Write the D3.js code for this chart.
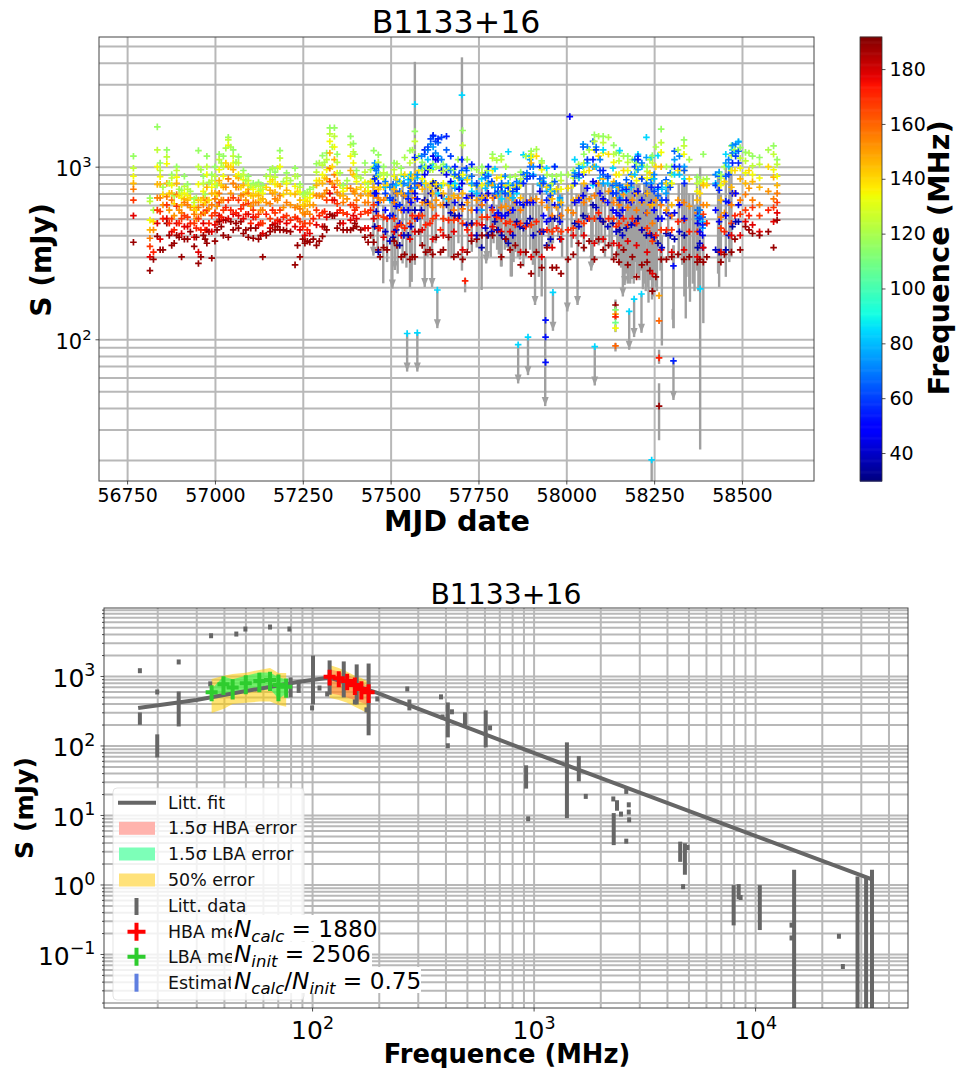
<!DOCTYPE html>
<html><head><meta charset="utf-8">
<script src="https://cdn.jsdelivr.net/npm/d3@7"></script>
<style>html,body{margin:0;background:#fff}svg{display:block;font-family:"DejaVu Sans",sans-serif}</style>
</head><body><svg id="c" width="957" height="1068"></svg>
<script>
// ---------- top panel data: HBA sub-bands, one value per epoch (mJy)
const hbaFreqs=[116,124,134,146,156,168,178,188];
const hbaEpochs=[56768,56815,56836,56844,56863,56877,56891,56905,56913,56922,56941,56953,56967,56977,56991,57000,57012,57024,57038,57052,57067,57081,57095,57109,57124,57136,57157,57171,57185,57204,57228,57242,57256,57270,57289,57306,57318,57327,57340,57348,57365,57386,57394,57403,57427,57436,57452,57465,
57480,57510,57530,57555,57569,57590,57620,57650,57680,57705,57730,57760,57790,57815,57840,57870,57900,57930,57960,57985,58020,58050,58080,58105,58135,58150,58175,58200,58230,58245,58270,58300,58335,58373,58390,58440,58470,58495,58510,58530,58550,58590,58600];
const hbaRows=[
[1150,980,880,800,740,640,520,365],[658,630,490,430,385,345,300,250],[1700,1250,1000,790,660,560,470,395],[1050,950,875,790,660,550,380,330],[1250,1140,1040,800,670,600,500,470],[900,860,780,700,640,500,420,350],[1000,950,870,800,690,590,470,400],[730,700,660,600,540,500,410,300],[880,770,700,650,620,520,450,380],[790,740,680,640,600,510,450,380],[650,620,590,560,530,470,390,345],[1240,1000,790,640,580,500,320,275],[880,800,720,660,600,540,470,400],[1150,1000,900,760,640,560,430,360],[900,830,760,700,600,520,420,295],[1000,880,790,700,650,540,460,370],[1180,1100,960,830,700,620,520,480],[1150,1000,880,760,640,560,490,400],[1480,1430,1330,1000,850,640,500,390],[1250,1150,1050,960,800,660,530,430],[1140,1050,900,860,760,640,520,440],[950,900,840,780,690,600,500,410],[880,830,780,740,700,610,530,390],[800,760,740,680,620,560,510,385],[810,770,720,680,620,530,460,380],[780,740,700,650,560,470,410,300],[960,880,820,730,610,500,440,420],[930,870,790,710,650,540,470,430],[1240,1120,1000,770,680,560,480,430],[920,860,800,730,620,520,470,425],[980,880,770,690,580,510,450,270],[790,760,710,640,570,480,430,300],[700,670,640,590,530,470,400,360],[740,700,660,600,530,470,410,365],[1040,930,830,780,680,560,460,350],[1160,1020,900,800,670,540,450,395],[1200,1100,960,850,730,640,510,430],[1680,1550,1400,1200,980,820,700,530],[1680,1500,1300,1100,900,760,640,520],[1180,1060,920,830,710,610,540,440],[780,750,720,680,620,540,470,430],[1500,1340,1150,950,750,600,490,430],[1360,1220,1050,900,720,600,520,440],[950,880,820,740,640,580,500,450],[1050,930,810,720,620,550,440,390],[800,760,720,680,620,540,440,365],[1240,1000,840,760,680,600,500,365],[1170,1060,880,740,660,520,440,330],
[1000,920,850,760,640,510,390,340],[1050,960,880,740,620,500,420,370],[980,900,800,700,560,460,400,300],[1240,1050,900,760,620,470,380,290],[1600,1400,1100,900,660,500,420,300],[1060,950,850,740,620,520,430,350],[1040,960,820,700,580,500,380,310],[1030,940,800,700,600,500,400,330],[960,880,780,680,560,490,420,300],[1620,1330,900,700,570,470,330,290],[980,880,780,670,560,460,400,370],[1000,920,780,660,600,510,460,400],[1180,1120,950,780,660,560,450,400],[1150,1100,870,720,580,500,420,300],[870,780,720,660,560,480,420,330],[930,850,780,660,560,470,320,270],[1230,1180,1130,1050,640,460,300,240],[1080,1050,960,800,620,420,300,260],[880,800,720,650,520,420,340,260],[900,830,740,620,520,420,380,240],[950,860,780,640,540,440,400,310],[1180,1050,930,800,620,470,400,340],[1530,1400,1250,1000,680,500,360,290],[1500,1380,1200,850,640,480,380,330],[1330,1180,1060,820,620,500,360,290],[1200,1080,900,760,600,470,350,280],[1150,1060,950,780,580,460,370,270],[1050,960,830,700,560,470,350,230],[1000,940,860,700,540,440,320,280],[1160,1050,860,600,470,370,240,190],[1650,1380,1210,1000,600,430,330,290],[1000,900,800,600,520,430,320,300],[1430,1320,1180,950,620,490,330,290],[870,800,720,640,540,420,300,280],[1180,840,800,780,600,530,340,280],[900,860,780,640,510,440,320,280],[1320,1160,950,760,600,470,400,320],[1290,1120,980,850,640,530,400,330],[1210,1080,920,800,690,560,480,450],[1150,1010,900,820,640,580,460,410],[1130,1030,860,760,600,520,420,400],[1320,1180,960,870,650,580,480,340],[1100,1030,880,780,700,620,540,490]];
// further HBA epochs read with fewer sub-bands
const hba2Freqs=[120,140,152,172,188];
const hba2Epochs=[56825,56852,56870,56884,56898,56930,56947,56960,56972,56983,57006,57018,57031,57045,57060,57074,57088,57102,57116,57130,57146,57164,57178,57195,57215,57235,57250,57263,57280,57297,57312,57334,57356,57376,57398,57415,57443,
57470,57490,57518,57540,57562,57580,57600,57612,57630,57642,57665,57692,57718,57745,57775,57802,57828,57855,57885,57915,57945,57972,58005,58035,58065,58092,58120,58142,58163,58188,58215,58238,58255,58285,58318,58350,58380,58400,58450,58480,58520,58575];
const hba2Rows=[
[560,480,430,320,290],[760,690,600,500,330],[800,700,560,470,400],[680,610,520,430,360],[740,680,560,470,390],[720,660,580,470,420],[660,560,500,440,390],[960,640,530,430,300],[690,620,540,430,380],[810,640,570,470,420],[780,690,590,480,430],[1050,780,640,510,450],[1280,1050,760,580,490],[1300,1000,700,560,480],[1060,880,760,540,470],[880,760,680,570,480],[830,710,640,530,430],[760,680,590,470,440],[780,690,620,510,440],[730,640,560,470,400],[880,760,620,530,400],[980,840,700,560,460],[980,790,640,490,450],[820,690,580,510,430],[830,700,600,490,420],[880,720,590,500,350],[690,600,540,450,380],[710,630,550,430,370],[760,690,600,500,380],[1050,830,680,520,370],[1060,860,700,550,450],[1300,1000,800,640,520],[920,780,680,560,470],[830,750,650,530,430],[1180,880,700,560,470],[860,760,680,530,430],[960,820,700,560,400],
[900,760,640,440,300],[900,780,660,500,330],[1040,840,700,450,350],[1130,900,680,440,310],[1250,860,720,520,300],[1150,950,780,520,420],[1000,800,620,460,320],[960,760,610,470,330],[1000,790,640,520,390],[980,750,600,430,320],[960,780,650,490,390],[1100,860,660,500,310],[1100,840,620,430,320],[960,770,640,470,380],[950,800,680,510,400],[1090,860,680,510,430],[1000,780,590,470,380],[880,760,620,460,350],[1150,880,620,450,320],[1260,1150,650,480,320],[900,760,580,430,340],[880,740,580,440,260],[900,750,560,430,290],[1030,860,660,480,360],[1250,950,650,500,370],[1500,1150,800,540,380],[1480,1180,720,500,350],[1200,900,660,450,310],[1150,950,690,500,330],[1100,880,640,500,300],[1020,860,620,430,270],[1100,920,600,410,250],[1300,1000,640,400,230],[1000,800,560,430,290],[1250,950,640,480,310],[1100,850,590,420,300],[820,700,560,420,290],[850,780,600,470,300],[1000,820,540,420,310],[1250,950,700,520,380],[1200,950,750,520,430],[1250,1000,720,560,420]];
// LBA sub-bands
const lbaFreqs=[84,75,65,55,45,36];
const lbaEpochs=[57455,57465,57507,57526,57550,57569,57597,57621,57635,57659,57683,57703,57731,57759,57778,57797,57816,57835,57859,57878,57897,57925,57944,57967,57982,58024,58048,58076,58105,58133,58152,58171,58204,58228,58242,58261,58284,58308,58336,58374,58388,58435,58454,58473,58490];
const lbaRows=[
[700,1050,980,850,700,450],[620,900,1000,800,620,320],[520,640,790,640,520,390],[600,820,720,600,470,350],[840,780,700,650,560,400],[2300,750,800,1130,700,560],[800,1000,1180,1250,900,640],[1000,1300,1500,1520,1150,800],[700,1150,1380,1450,1100,750],[650,1000,1250,1500,900,600],[800,750,900,1000,620,520],[2600,840,950,1100,800,600],[720,800,880,1030,680,470],[850,560,650,680,600,340],[900,800,880,1000,700,400],[970,760,700,680,520,480],[650,720,800,760,520,400],[1220,800,700,750,540,360],[700,750,820,740,620,480],[1170,600,900,800,600,440],[1150,1100,1000,880,620,500],[800,780,850,1000,720,420],[980,720,760,640,480,350],[1000,720,820,1000,600,500],[640,660,600,520,480,380],[1100,920,880,800,620,470],[1000,1350,1300,900,680,520],[780,1000,1400,1100,820,600],[1250,800,900,950,650,480],[980,700,780,700,560,470],[1240,660,780,640,520,430],[720,760,840,740,640,440],[1180,960,1150,1100,720,500],[1480,1130,800,700,540,400],[1130,800,840,760,620,400],[1160,740,680,760,500,360],[760,700,840,640,540,410],[900,1100,1230,1000,540,380],[850,1000,950,800,500,400],[560,500,560,520,470,340],[480,440,510,460,400,340],[900,930,880,730,480,320],[1180,1050,880,630,520,330],[1250,1330,1200,1050,700,450],[1400,1390,1230,1050,600,480]];
const lba2Freqs=[80,70,60,50,40];
const lba2Epochs=[57459,57485,57498,57516,57538,57558,57576,57588,57606,57614,57628,57645,57671,57695,57716,57745,57770,57788,57806,57826,57848,57868,57888,57906,57935,57955,58036,58060,58085,58096,58118,58142,58160,58185,58195,58215,58250,58272,58296,58322,58380,58425,58462,58482];
const lba2Rows=[
[1000,950,880,700,550],[760,820,700,560,420],[640,760,660,520,370],[780,840,700,590,430],[880,800,680,560,400],[900,850,750,620,450],[860,900,780,650,500],[980,1150,1000,800,560],[1100,1250,1300,950,620],[1000,1350,1450,1000,700],[800,1200,1400,1100,800],[780,1100,1480,950,680],[800,950,1150,820,540],[760,860,900,740,520],[860,950,980,660,460],[700,780,800,560,400],[750,860,900,640,440],[800,780,820,580,420],[700,760,720,540,430],[760,880,700,520,380],[660,780,720,560,400],[820,800,780,620,450],[880,920,850,620,470],[900,1000,880,620,400],[820,860,800,520,420],[740,780,680,500,380],[860,980,900,640,450],[1050,1300,1100,750,500],[1000,1300,1250,800,580],[860,1100,950,700,500],[800,860,880,620,450],[760,800,700,540,420],[720,760,730,560,400],[760,900,800,620,460],[900,1100,1000,700,470],[1000,1050,850,640,430],[850,900,720,560,390],[740,800,640,500,340],[800,920,760,520,400],[900,1150,1000,600,420],[520,560,500,420,360],[800,900,780,560,330],[1000,1100,900,620,400],[1200,1350,1150,700,480]];
// isolated low or high points
const isoMjd=[57547,57576,57633,57712,57863,57891,57941,57941,57941,57962,58081,58140,58140,58140,58140,58140,58140,58140,58179,58193,58214,58264,58264,58264,58264,58243,58305,58305,58381,58010];
const isoS=[108,109,193,218,93,103,129,103,73.5,187,90.7,158,148,140,135,125,116,91.5,145,171,183,179,128,78,41,20,75,266,196,1950];
const isoFreq=[84,84,84,172,84,84,52,52,52,84,84,188,112,150,172,108,134,160,84,84,84,150,160,172,188,84,55,52,84,50];
// grey error bars: date, top, bottom
const errMjd=[57451,57479,57505,57512,57534,57555,57569,57597,57618,57673,57693,57703,57712,57731,57759,57772,57774,57793,57803,57814,57816,57830,57842,57845,57855,57868,57878,57897,57911,57914,57930,57940,57958,57962,57977,58003,58029,58032,58043,58057,58071,58075,58100,58123,58145,58161,58166,58172,58178,58185,58187,58195,58204,58213,58222,58232,58234,58240,58246,58250,58256,58272,58305,58336,58340,58350,58352,58365,58381,58390,58435,58454,58464];
const errHi=[900,600,800,800,800,900,4050,800,800,800,700,4300,226,700,800,600,800,700,600,700,800,700,600,700,600,600,700,700,500,700,800,300,700,500,800,800,700,500,800,800,700,600,800,800,800,700,500,700,800,800,700,600,800,700,800,800,700,800,700,700,700,400,350,800,500,700,600,600,1000,400,900,1000,1000];
const errLo=[305,211,197,252,275,201,270,201,201,294,360,250,187,321,193,275,288,360,330,264,264,340,231,231,320,290,264,330,158,300,177,41,340,360,390,145,380,158,390,480,250,270,360,340,300,177,206,260,300,250,223,280,240,250,210,201,163,260,177,250,200,92,116,177,132,200,165,190,23,124,201,230,280];
const errArrow=[1,0,1,1,0,0,0,1,1,0,0,0,0,0,0,1,1,0,0,0,0,0,0,0,0,0,0,0,1,0,0,1,0,0,0,1,0,1,0,1,1,1,0,0,0,1,1,0,0,0,0,0,0,0,0,0,0,0,0,1,0,0,0,0,0,0,0,0,0,0,0,0,0];
const err2Mjd=[57463,57490,57520,57545,57560,57585,57605,57628,57650,57665,57680,57720,57745,57785,57808,57825,57836,57850,57862,57885,57905,57922,57950,57988,58015,58050,58085,58092,58110,58130,58150,58156,58170,58175,58182,58192,58200,58208,58218,58226,58238,58244,58258,58268,58290,58320,58330,58342,58360,58372,58376,58432,58440,58470];
const err2Hi=[700,500,700,700,700,600,800,800,700,800,700,700,800,600,700,700,700,700,600,800,800,600,700,700,800,800,800,800,800,800,800,700,700,700,700,800,800,800,700,800,800,800,700,700,800,800,800,800,700,900,600,900,700,1000];
const err2Lo=[320,280,240,260,215,350,300,360,400,300,310,330,340,300,310,330,330,280,300,300,270,230,340,300,340,320,360,350,300,290,270,260,240,210,210,210,240,220,195,190,220,170,190,250,300,300,270,230,210,250,190,240,280,300];
// arrows for isolated upper limits
const limMjd=[57547,57576,57633,57863,57891,57962,58081,58179,58193,58214,58305];
const limHi=[108,109,193,93,103,187,90.7,145,171,183,75];
const limLo=[65,65,116,55.5,62,112,54,87,103,109,44.5];
const shortMjd=[58140,58140,58140,58264,58264,58243,58305,58303];
const shortHi=[170,122,95,87,55.6,20,350,150];
const shortLo=[130,110,85,72,26,15,116,130];

const xTicksTop=[56750,57000,57250,57500,57750,58000,58250,58500];
const cbTicks=[40,60,80,100,120,140,160,180];

// ---------- bottom panel data
const fitF=[16.4,30,86,120,197,250,897,33700];
const fitS=[347,452,820,950,570,423,89,1.18];
const lbaF=[35.2,39.8,43.8,50.2,57.8,64.6,70.5,76.4];
const lbaS=[583,760,680,785,848,876,743,702];
const lbaErr=[150,230,220,240,265,270,310,215];
const hbaF=[120,132,144,156,167,180];
const hbaS=[978,927,848,743,650,583];
const hbaErr=[250,240,225,210,190,175];
const yLbaHi=[905,1010,1070,1116,1220,1300,1100,1100];
const yLbaLo=[294,336,396,410,428,428,383,362];
const gLbaHi=[650,980,900,1010,1120,1120,960,900];
const gLbaLo=[490,570,520,610,630,650,470,550];
const yHbaHi=[1440,1300,1150,1010,935,820];
const yHbaLo=[487,450,410,362,325,284];
const pHbaHi=[1260,1150,1030,930,820,700];
const pHbaLo=[565,530,490,450,415,383];
const litF=[16.7,16.7,20,20,25,25,35,45.5,50,64.6,79,34.7,80,87,101,100,108,117,120,139,159,156,180,176,197,269,275,382,410,410,388,428,490,608,636,925,945,1414,1600,1720,2290,2380,2300,2480,2690,2690,2700,2620,2620,4590,4820,4950,4730,8000,8430,8600,10500,15000,14600,14600,23900,24900,29000,31700,33700];
const litHi=[1190,275,588,133,1590,550,3790,4010,4730,5060,4730,770,876,760,1810,347,670,550,1540,1490,1350,423,1390,325,467,650,423,500,383,99,257,305,275,294,179,47.7,8.8,102,64.6,18.5,17,15,9.8,10.3,14,11,8.5,21.8,4.2,3.8,3.6,3.4,0.93,0.9,0.93,0.65,0.9,1.5,0.26,0.17,0.18,0.066,1.2,1.15,1.5];
const litLo=[1190,215,588,73,1590,204,3790,4010,4730,5060,4730,770,533,620,423,347,670,550,583,533,423,423,152,325,467,650,347,500,142,99,257,305,209,102,179,26,8.8,9.8,33,18.5,17,12.5,4,10.3,14,11,8.5,21.8,4.2,2.3,1.5,3.4,0.93,0.28,0.67,0.65,0.24,0.017,0.26,0.17,0.18,0.066,0.017,0.017,0.017];
const legendLabels=["Litt. fit","1.5σ HBA error","1.5σ LBA error","50% error","Litt. data","HBA measurements","LBA measurements","Estimated flux"];

// ---------- jet colour
const jetR=d3.scaleLinear([0,.35,.66,.89,1],[0,0,1,1,.5]);
const jetG=d3.scaleLinear([0,.125,.375,.64,.91,1],[0,0,1,1,0,0]);
const jetB=d3.scaleLinear([0,.11,.34,.65,1],[.5,1,1,0,0]);
const fDom=d3.scaleLinear([29.8,191.7],[0,1]).clamp(true);
const jet=f=>{const t=fDom(f);return d3.rgb(jetR(t)*255,jetG(t)*255,jetB(t)*255).formatHex()};

const svg=d3.select("#c");
const GRID="#b8b8b8";
const minorTicks=(a,b)=>{const o=[];for(let e=a;e<b;e++)for(let k=2;k<10;k++)o.push(k*Math.pow(10,e));return o};
const pow10=(sel,size)=>{sel.each(function(d){const t=d3.select(this);const e=Math.round(Math.log10(d));t.text(null);t.append("tspan").text("10");t.append("tspan").attr("dy",-size*.42).attr("font-size",size*.7).text(e<0?"\u2212"+(-e):e);});};
const styleAxis=g=>{g.select(".domain").remove();g.selectAll("line").attr("stroke","#222").attr("stroke-width",.8);};

// ---------- top panel
const T={l:99,r:814,t:37,b:481};
const x1=d3.scaleLinear([56670,58705],[T.l,T.r]);
const y1=d3.scaleLog([15.1,5640],[T.b,T.t]);
const panelTop=svg.append("g");
const y1Minor=minorTicks(1,3).concat([2000,3000,4000,5000]).filter(v=>v>=15.1&&v<=5640);
const y1Major=[100,1000];
const gridY1=panelTop.append("g").attr("transform",`translate(${T.l},0)`).call(d3.axisLeft(y1).tickValues(y1Minor.concat(y1Major)).tickSize(-(T.r-T.l)).tickFormat(""));
gridY1.select(".domain").remove();gridY1.selectAll("line").attr("stroke",GRID).attr("stroke-width",2);
const gridX1=panelTop.append("g").attr("transform",`translate(0,${T.b})`).call(d3.axisBottom(x1).tickValues(xTicksTop).tickSize(-(T.b-T.t)).tickFormat(""));
gridX1.select(".domain").remove();gridX1.selectAll("line").attr("stroke",GRID).attr("stroke-width",2);

// grey error bars
const ER="#a0a0a0";
const errs=errMjd.map((m,i)=>({m,hi:errHi[i],lo:errLo[i],a:errArrow[i]}))
 .concat(err2Mjd.map((m,i)=>({m,hi:err2Hi[i],lo:err2Lo[i],a:0})))
 .concat(limMjd.map((m,i)=>({m,hi:limHi[i],lo:limLo[i],a:1})))
 .concat(shortMjd.map((m,i)=>({m,hi:shortHi[i],lo:shortLo[i],a:0})));
panelTop.append("g").selectAll("line").data(errs).join("line")
 .attr("x1",d=>x1(d.m)).attr("x2",d=>x1(d.m)).attr("y1",d=>y1(d.hi)).attr("y2",d=>Math.min(y1(d.lo),T.b))
 .attr("stroke",ER).attr("stroke-width",2.4);
panelTop.append("g").selectAll("path").data(errs.filter(d=>d.a)).join("path")
 .attr("d",d=>{const X=x1(d.m),Y=y1(d.lo);return `M${X-3.5},${Y-9}L${X+3.5},${Y-9}L${X},${Y}Z`}).attr("fill",ER);

// points, oldest first
const pts=[];
const addRows=(ep,rows,fr)=>ep.forEach((m,i)=>rows[i].forEach((s,j)=>pts.push({m,s,f:fr[j]})));
addRows(hbaEpochs,hbaRows,hbaFreqs);
addRows(hba2Epochs,hba2Rows,hba2Freqs);
addRows(lbaEpochs,lbaRows,lbaFreqs);
addRows(lba2Epochs,lba2Rows,lba2Freqs);
isoMjd.forEach((m,i)=>pts.push({m,s:isoS[i],f:isoFreq[i]}));
pts.sort((a,b)=>a.m-b.m);
panelTop.append("g").selectAll("path").data(pts).join("path")
 .attr("d",d=>{const X=x1(d.m),Y=y1(d.s);return `M${X-3.3},${Y}H${X+3.3}M${X},${Y-3.3}V${Y+3.3}`})
 .attr("stroke",d=>jet(d.f)).attr("stroke-width",1.7).attr("fill","none");

panelTop.append("rect").attr("x",T.l).attr("y",T.t).attr("width",T.r-T.l).attr("height",T.b-T.t).attr("fill","none").attr("stroke","#444").attr("stroke-width",1);
const ax1=panelTop.append("g").attr("transform",`translate(0,${T.b})`).call(d3.axisBottom(x1).tickValues(xTicksTop).tickSize(3.5).tickPadding(4).tickFormat(d3.format("d")));
styleAxis(ax1);ax1.selectAll("text").attr("font-size",19).attr("fill","#000").attr("font-family","DejaVu Sans");
const ay1=panelTop.append("g").attr("transform",`translate(${T.l},0)`).call(d3.axisLeft(y1).tickValues(y1Major).tickSize(3.5).tickPadding(4));
styleAxis(ay1);ay1.selectAll("text").attr("font-size",21).attr("fill","#000").attr("font-family","DejaVu Sans").attr("dy","0.42em").call(pow10,21);
const lab=(x,y,txt,size,weight,rot)=>svg.append("text").attr("transform",`translate(${x},${y})${rot?" rotate(-90)":""}`).attr("text-anchor","middle").attr("font-size",size).attr("font-weight",weight||"normal").text(txt);
lab(456,33,"B1133+16",31.6);
lab(457,531,"MJD date",28.7,"bold");
lab(51,260,"S (mJy)",28.1,"bold",true);

// colourbar
const cb={l:860,r:882};
const cbY=d3.scaleLinear([29.8,191.7],[T.b,T.t]);
svg.append("g").selectAll("rect").data(d3.range(29.8,191.7,0.4)).join("rect")
 .attr("x",cb.l).attr("width",cb.r-cb.l).attr("y",d=>cbY(d+0.4)).attr("height",d=>cbY(d)-cbY(d+.4)+.6).attr("fill",d=>jet(d));
svg.append("rect").attr("x",cb.l).attr("y",T.t).attr("width",cb.r-cb.l).attr("height",T.b-T.t).attr("fill","none").attr("stroke","#333").attr("stroke-width",.8);
const axC=svg.append("g").attr("transform",`translate(${cb.r},0)`).call(d3.axisRight(cbY).tickValues(cbTicks).tickSize(3.5).tickPadding(4));
styleAxis(axC);axC.selectAll("text").attr("font-size",19).attr("fill","#000").attr("font-family","DejaVu Sans");
lab(949,258,"Frequence (MHz)",28.8,"bold",true);

// ---------- bottom panel
const B={l:104,r:908,t:608,b:1008};
const x2=d3.scaleLog([11.5,49000],[B.l,B.r]);
const y2=d3.scaleLog([0.0167,9500],[B.b,B.t]);
const bot=svg.append("g");
const xVals=minorTicks(1,5).concat([100,1000,10000]).filter(v=>v>=11.5&&v<=49000);
const yVals=minorTicks(-2,4).concat([.1,1,10,100,1000]).filter(v=>v>=.0167&&v<=9500);
const gy2=bot.append("g").attr("transform",`translate(${B.l},0)`).call(d3.axisLeft(y2).tickValues(yVals).tickSize(-(B.r-B.l)).tickFormat(""));
gy2.select(".domain").remove();gy2.selectAll("line").attr("stroke",GRID).attr("stroke-width",2);
const gx2=bot.append("g").attr("transform",`translate(0,${B.b})`).call(d3.axisBottom(x2).tickValues(xVals).tickSize(-(B.b-B.t)).tickFormat(""));
gx2.select(".domain").remove();gx2.selectAll("line").attr("stroke",GRID).attr("stroke-width",2);

const band=(f,hi,lo,col,op)=>bot.append("path").attr("d",d3.area().x((d,i)=>x2(f[i])).y0((d,i)=>y2(lo[i])).y1((d,i)=>y2(hi[i]))(f)).attr("fill",col).attr("fill-opacity",op);
band(lbaF,yLbaHi,yLbaLo,"#ffcc00",.55);
band(hbaF,yHbaHi,yHbaLo,"#ffcc00",.55);
band(lbaF,gLbaHi,gLbaLo,"#00ff66",.55);
band(hbaF,pHbaHi,pHbaLo,"#ff5040",.4);

const DK="#666";
bot.append("g").selectAll("line").data(litF).join("line")
 .attr("x1",d=>x2(d)).attr("x2",d=>x2(d)).attr("y1",(d,i)=>y2(litHi[i])-2.5).attr("y2",(d,i)=>Math.min(y2(litLo[i])+2.5,B.b))
 .attr("stroke",DK).attr("stroke-width",4);
bot.append("path").attr("d",d3.line().x((d,i)=>x2(fitF[i])).y((d,i)=>y2(fitS[i]))(fitF)).attr("fill","none").attr("stroke",DK).attr("stroke-width",4);

const crosses=(f,s,e,col)=>bot.append("g").selectAll("path").data(f).join("path")
 .attr("d",(d,i)=>{const X=x2(d),Y=y2(s[i]);return `M${X-6},${Y}H${X+6}M${X},${y2(s[i]+e[i])}V${y2(Math.max(s[i]-e[i],1))}`})
 .attr("stroke",col).attr("stroke-width",4).attr("fill","none");
crosses(lbaF,lbaS,lbaErr,"#2ecc2e");
crosses(hbaF,hbaS,hbaErr,"#ff0000");

bot.append("rect").attr("x",B.l).attr("y",B.t).attr("width",B.r-B.l).attr("height",B.b-B.t).attr("fill","none").attr("stroke","#444").attr("stroke-width",1);
const ax2=bot.append("g").attr("transform",`translate(0,${B.b})`).call(d3.axisBottom(x2).tickValues([100,1000,10000]).tickSize(3.5).tickPadding(4));
styleAxis(ax2);ax2.selectAll("text").attr("font-size",25).attr("fill","#000").attr("font-family","DejaVu Sans").attr("dy","0.95em").call(pow10,25);
const ay2=bot.append("g").attr("transform",`translate(${B.l},0)`).call(d3.axisLeft(y2).tickValues([.1,1,10,100,1000]).tickSize(3.5).tickPadding(5));
styleAxis(ay2);ay2.selectAll("text").attr("font-size",25).attr("fill","#000").attr("font-family","DejaVu Sans").attr("dy","0.42em").call(pow10,25);
const ayM=bot.append("g").attr("transform",`translate(${B.l},0)`).call(d3.axisLeft(y2).tickValues(minorTicks(-2,4).filter(v=>v>=.0167&&v<=9500)).tickSize(2).tickFormat(""));
styleAxis(ayM);
lab(506,604,"B1133+16",28.3);
lab(507,1063,"Frequence (MHz)",25.8,"bold");
lab(33,808,"S (mJy)",25.2,"bold",true);

// legend
const leg=svg.append("g");
leg.append("rect").attr("x",113).attr("y",788).attr("width",191).attr("height",212).attr("rx",4).attr("fill","#fff").attr("fill-opacity",.82).attr("stroke","#ddd").attr("stroke-opacity",.8);
const legY=[802.7,828.3,854,880,906,931.7,956.7,982.7];
leg.selectAll("text").data(legendLabels).join("text").attr("x",168).attr("y",(d,i)=>legY[i]+6).attr("font-size",17.4).attr("fill","#111").text(d=>d);
const hx0=118,hx1=155,hc=(hx0+hx1)/2+0;
leg.append("line").attr("x1",hx0).attr("x2",hx1+1).attr("y1",legY[0]).attr("y2",legY[0]).attr("stroke",DK).attr("stroke-width",4);
[["#ffb3ad",1],["#7dffb8",2],["#ffe27a",3]].forEach(([c,i])=>leg.append("rect").attr("x",119).attr("y",legY[i]-6.5).attr("width",36).attr("height",13).attr("fill",c));
leg.append("line").attr("x1",hc).attr("x2",hc).attr("y1",legY[4]-8).attr("y2",legY[4]+9).attr("stroke",DK).attr("stroke-width",4);
[[5,"#ff0000"],[6,"#2ecc2e"]].forEach(([i,c])=>{
 leg.append("path").attr("d",`M${hc-9},${legY[i]}H${hc+9}M${hc},${legY[i]-9}V${legY[i]+9}`).attr("stroke",c).attr("stroke-width",4).attr("fill","none");});
leg.append("line").attr("x1",hc).attr("x2",hc).attr("y1",legY[7]-9).attr("y2",legY[7]+9).attr("stroke","#5f7fe0").attr("stroke-width",4);

// annotations
const ann=[{x:234,y:937,bx:232,bw:146,by:915,bh:26,parts:[["N","i"],["calc","s"],[" = 1880","n"]]},
           {x:234,y:962,bx:232,bw:140,by:942,bh:25,parts:[["N","i"],["init","s"],[" = 2506","n"]]},
           {x:234,y:989,bx:231,bw:190,by:967,bh:26,parts:[["N","i"],["calc","s"],["/","n"],["N","i"],["init","s"],[" = 0.75","n"]]}];
ann.forEach(a=>{
 svg.append("rect").attr("x",a.bx).attr("y",a.by).attr("width",a.bw).attr("height",a.bh).attr("fill","#fff");
 const t=svg.append("text").attr("x",a.x).attr("y",a.y).attr("font-size",23.2).attr("fill","#000");
 let shift=0;
 a.parts.forEach(([s,k])=>{
  const ts=t.append("tspan").text(s).style("white-space","pre");
  let dy=0;
  if(k==="i")ts.attr("font-style","italic");
  if(k==="s"){ts.attr("font-style","italic").attr("font-size",16.5);dy=5;}
  ts.attr("dy",dy-shift);shift=dy;
 });
});
</script></body></html>
